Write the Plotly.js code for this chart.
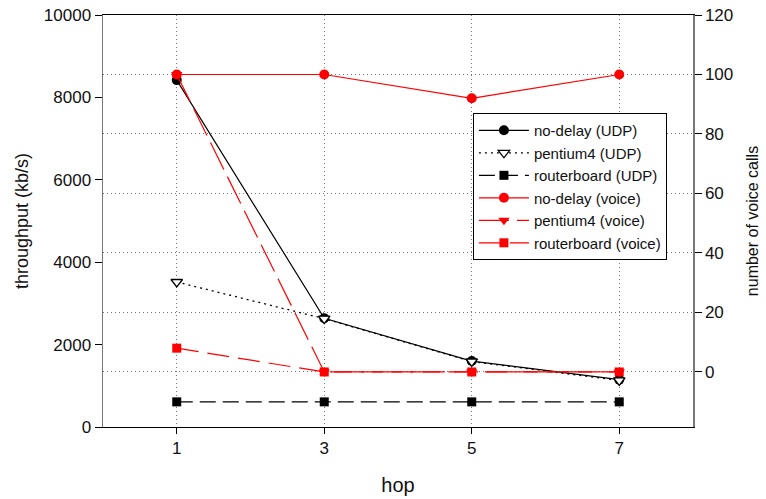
<!DOCTYPE html>
<html>
<head>
<meta charset="utf-8">
<script src="https://cdn.plot.ly/plotly-3.0.1.min.js"></script>
<style>html,body{margin:0;padding:0;background:#fff;}</style>
</head>
<body>
<div id="chart" style="width:766px;height:499px;"></div>
<script>
const hops = [1, 3, 5, 7];
const noDelayUDP = [8420, 2640, 1600, 1150];
const pentium4UDP = [3520, 2630, 1590, 1130];
const routerboardUDP = [610, 610, 610, 610];
const noDelayVoice = [100, 100, 92, 100];
const pentium4Voice = [100, 0, 0, 0];
const routerboardVoice = [8, 0, 0, 0];
const xTicks = [1, 3, 5, 7];
const leftTicks = [0, 2000, 4000, 6000, 8000, 10000];
const rightTicks = [0, 20, 40, 60, 80, 100, 120];

const traces = [
  {x: hops, y: noDelayUDP, name: 'no-delay (UDP)', mode: 'lines+markers', yaxis: 'y',
   line: {color: '#000', width: 1.2}, marker: {symbol: 'circle', size: 10, color: '#000'}},
  {x: hops, y: pentium4UDP, name: 'pentium4 (UDP)', mode: 'lines+markers', yaxis: 'y',
   line: {color: '#000', width: 1.3, dash: '2px,4px'},
   marker: {symbol: 'triangle-down', size: 10, color: '#fff', line: {color: '#000', width: 1.3}}},
  {x: hops, y: routerboardUDP, name: 'routerboard (UDP)', mode: 'lines+markers', yaxis: 'y',
   line: {color: '#000', width: 1.2, dash: '16px,7px'}, marker: {symbol: 'square', size: 9, color: '#000'}},
  {x: hops, y: noDelayVoice, name: 'no-delay (voice)', mode: 'lines+markers', yaxis: 'y2',
   line: {color: '#ff0000', width: 1.2}, marker: {symbol: 'circle', size: 10, color: '#ff0000'}},
  {x: hops, y: pentium4Voice, name: 'pentium4 (voice)', mode: 'lines+markers', yaxis: 'y2',
   line: {color: '#ff0000', width: 1.2, dash: '30px,8px'}, marker: {symbol: 'triangle-down', size: 10, color: '#ff0000'}},
  {x: hops, y: routerboardVoice, name: 'routerboard (voice)', mode: 'lines+markers', yaxis: 'y2',
   line: {color: '#ff0000', width: 1.2, dash: '22px,9px'}, marker: {symbol: 'square', size: 9, color: '#ff0000'}}
];

const fontFam = 'Liberation Sans, Arial, sans-serif';
const layout = {
  width: 766, height: 499,
  margin: {l: 103, r: 73, t: 15, b: 72},
  paper_bgcolor: '#fff', plot_bgcolor: '#fff',
  font: {family: fontFam, size: 16, color: '#111'},
  showlegend: true,
  legend: {x: 0.627, y: 0.762, xanchor: 'left', yanchor: 'top',
    bgcolor: '#fff', bordercolor: '#000', borderwidth: 1,
    font: {family: fontFam, size: 15, color: '#111'}, tracegroupgap: 0, itemwidth: 50},
  xaxis: {range: [0, 8], tickvals: xTicks, ticktext: xTicks.map(String),
    showline: true, linecolor: '#000', linewidth: 1, mirror: true,
    ticks: 'outside', ticklen: 6, tickcolor: '#000',
    showgrid: true, gridcolor: '#777', griddash: '1px,3px', gridwidth: 1, zeroline: false,
    title: {text: 'hop', font: {size: 20, family: fontFam, color: '#111'}, standoff: 20},
    tickfont: {size: 17}},
  yaxis: {range: [0, 10000], tickvals: leftTicks, ticktext: leftTicks.map(String),
    showline: true, linecolor: '#777', linewidth: 1.5,
    ticks: 'outside', ticklen: 7, tickcolor: '#000',
    showgrid: false, zeroline: false,
    title: {text: 'throughput (kb/s)', font: {size: 18, family: fontFam, color: '#111'}, standoff: 10},
    tickfont: {size: 17}},
  yaxis2: {range: [-18.5, 120], tickvals: rightTicks, ticktext: rightTicks.map(String),
    overlaying: 'y', side: 'right',
    showline: true, linecolor: '#777', linewidth: 1.5,
    ticks: 'outside', ticklen: 7, tickcolor: '#000',
    showgrid: true, gridcolor: '#777', griddash: '1px,3px', gridwidth: 1, zeroline: false,
    title: {text: 'number of voice calls', font: {size: 16, family: fontFam, color: '#111'}, standoff: 14},
    tickfont: {size: 17}}
};

Plotly.newPlot('chart', traces, layout, {displayModeBar: false, staticPlot: true});
</script>
</body>
</html>
